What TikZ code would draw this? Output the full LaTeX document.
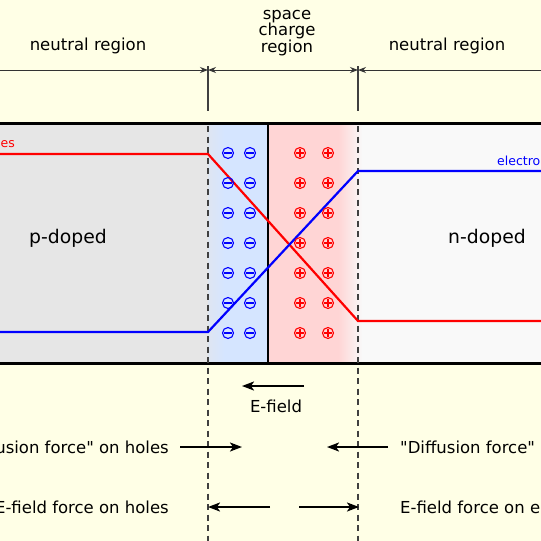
\documentclass[tikz,border=0pt]{standalone}
\usepackage{fontspec}
\setmainfont{DejaVu Sans}
\usetikzlibrary{arrows.meta,positioning,calc}
\definecolor{bgcream}{RGB}{255,255,230}
\definecolor{pgray}{RGB}{230,230,230}
\definecolor{ngray}{RGB}{249,249,249}
\definecolor{scblue}{RGB}{213,229,255}
\definecolor{scpink}{RGB}{255,213,213}
\definecolor{ionblue}{RGB}{0,0,255}
\definecolor{ionred}{RGB}{255,0,0}

\begin{document}
\begin{tikzpicture}[x=1pt, y=-1pt,
  font=\fontsize{16.5}{16.5}\selectfont,
  lab/.style={inner sep=0pt, align=center},
  dop/.style={inner sep=0pt, font=\fontsize{18.8}{18.8}\selectfont},
  carrier/.style={inner sep=0pt, font=\fontsize{12.5}{12.5}\selectfont},
  dim/.style={line width=1pt, draw=black!80, -{Stealth[length=8pt, width=6pt]}},
  tick/.style={line width=1.2pt, draw=black!75},
  sep/.style={line width=1.1pt, draw=black!75, dash pattern=on 6pt off 4.5pt},
  arr/.style={line width=2pt, -{Stealth[length=12pt, width=9pt, inset=3pt]}},
  conc/.style={line width=2.2pt},
  ion/.style={line width=1.1pt}
]
\clip (0,0) rectangle (541,541);
\fill[bgcream] (0,0) rectangle (541,541);

% ---------- regions ----------
\fill[pgray] (-20,123) rectangle (208,363);
\fill[scblue] (208,123) rectangle (268,363);
\shade[left color=scblue!45!pgray, right color=scblue] (208,123) rectangle (224,363);
\fill[scpink] (268,123) rectangle (338,363);
\shade[left color=scpink, right color=ngray] (338,123) rectangle (362,363);
\fill[ngray] (362,123) rectangle (561,363);

\draw[line width=3pt] (-20,123) -- (561,123);
\draw[line width=3pt] (-20,363) -- (561,363);
\draw[line width=2pt] (268,123) -- (268,363);

% ---------- region boundaries ----------
\coordinate (jlA) at (208,66);
\coordinate (jlB) at (208,111);
\coordinate (jrA) at (358,66);
\coordinate (jrB) at (358,111);
\draw[tick] (jlA) -- (jlB);
\draw[tick] (jrA) -- (jrB);
\draw[sep] (208,126) -- (208,541);
\draw[sep] (358,126) -- (358,541);

\coordinate (dimL) at (-20,70);
\coordinate (dimJl) at (208,70);
\coordinate (dimJr) at (358,70);
\coordinate (dimR) at (561,70);
\draw[dim] (dimL) -- (dimJl);
\draw[dim, {Stealth[length=8pt, width=6pt]}-{Stealth[length=8pt, width=6pt]}] (dimJl) -- (dimJr);
\draw[dim] (dimR) -- (dimJr);

\node[lab] (neutL) at (88,46) {neutral region};
\node[lab] (scr) at (287,33) {space\\charge\\region};
\node[lab] (neutR) at (447,46) {neutral region};

% ---------- carrier densities ----------
\draw[conc, ionred] (-20,154) -- (208,154) -- (358,321) -- (561,321);
\draw[conc, ionblue] (-20,332) -- (208,332) -- (358,171) -- (561,171);
\node[carrier, text=ionred, anchor=base east] (holes) at (15,147) {holes};
\node[carrier, text=ionblue, anchor=base west] (elec) at (497,165.5) {electrons};

% ---------- fixed ions ----------
\foreach \y in {153,183,...,333} {
  \foreach \x in {228,250} {
    \draw[ion, ionblue] (\x,\y) circle[radius=5.5];
    \draw[ion, ionblue] (\x-3.6,\y) -- (\x+3.6,\y);
  }
  \foreach \x in {300,328} {
    \draw[ion, ionred] (\x,\y) circle[radius=5.5];
    \draw[ion, ionred] (\x-3.6,\y) -- (\x+3.6,\y) (\x,\y-3.6) -- (\x,\y+3.6);
  }
}

\node[dop] (pdop) at (68,238) {p-doped};
\node[dop] (ndop) at (487,238) {n-doped};

% ---------- forces ----------
\coordinate (efA) at (304,386);
\coordinate (efB) at (242,386);
\draw[arr] (efA) -- (efB);
\node[lab] (ef) at (276,406) {E-field};

\node[lab, anchor=east] (difH) at (169,447) {\textquotedbl Diffusion force\textquotedbl{} on holes};
\node[lab, anchor=west] (difE) at (400,447) {\textquotedbl Diffusion force\textquotedbl{} on electrons};
\node[lab, anchor=east] (efH) at (169,507) {E-field force on holes};
\node[lab, anchor=west] (efE) at (400,507) {E-field force on electrons};

\coordinate (difHa) at (180,447);
\coordinate (difHb) at (242,447);
\coordinate (difEa) at (388,447);
\coordinate (difEb) at (327,447);
\coordinate (efHa) at (270,507);
\coordinate (efHb) at (208,507);
\coordinate (efEa) at (299,507);
\coordinate (efEb) at (359,507);
\draw[arr] (difHa) -- (difHb);
\draw[arr] (difEa) -- (difEb);
\draw[arr] (efHa) -- (efHb);
\draw[arr] (efEa) -- (efEb);

\end{tikzpicture}
\end{document}
